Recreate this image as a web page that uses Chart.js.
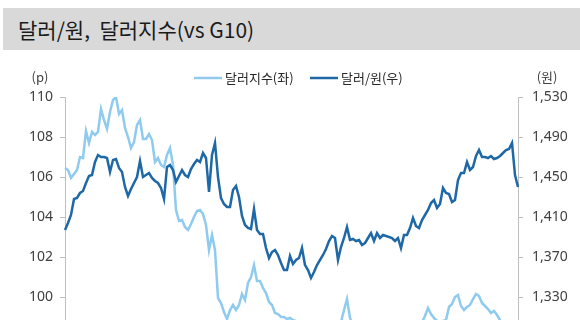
<!DOCTYPE html>
<html>
<head>
<meta charset="utf-8">
<script src="https://cdn.jsdelivr.net/npm/chart.js@4"></script>
<style>
  body { margin: 0; width: 580px; height: 320px; overflow: hidden; background: #fff; }
  #title {
    position: absolute; left: 3px; top: 8px; width: 577px; height: 42px;
    background: #d9d9d9; z-index: 2;
    font-family: "Noto Sans CJK KR", sans-serif; font-size: 21px; color: #1b1b1b;
    line-height: 42px; padding-left: 15px; box-sizing: border-box;
  }
  #wrap { position: absolute; left: 0; top: 0; width: 580px; height: 400px; }
</style>
</head>
<body>
<div id="title">달러/원,&nbsp; 달러지수(vs G10)</div>
<div id="wrap"><canvas id="chart" width="580" height="400"></canvas></div>
<script>
// 달러지수 (left axis, p)
const dollarIndex = [
  106.45, 106.35, 105.95, 106.15, 106.35, 107.0, 106.95, 108.3, 107.7, 108.25,
  108.1, 108.25, 109.4, 108.85, 108.4, 109.25, 109.85, 110.0, 109.15, 109.35,
  108.45, 108.0, 107.45, 107.75, 108.6, 108.85, 107.9, 107.9, 108.15, 107.85,
  106.75, 106.95, 106.6, 106.5, 107.1, 107.45, 106.6, 104.35, 103.8, 103.85,
  103.5, 103.35, 103.65, 104.0, 104.3, 104.35, 104.15, 103.6, 102.35, 103.1,
  102.35, 99.95, 99.7, 99.25, 98.9, 99.35, 99.6, 99.35, 99.6, 100.15,
  99.85, 100.7, 101.0, 101.6, 100.8, 100.8, 100.45, 100.2, 99.75, 99.6,
  99.2, 99.15, 99.0, 99.0, 98.9, 98.95, 98.85, 98.8, 98.65, 98.5,
  98.35, 98.55, 98.2, 98.05, 98.3, 98.4, 98.15, 97.95, 98.1, 98.35,
  98.25, 98.5, 98.75, 99.35, 99.9, 98.95, 98.55, 98.35, 98.2, 98.0,
  97.85, 98.05, 97.9, 97.75, 97.95, 98.15, 98.0, 98.2, 98.4, 98.3,
  98.1, 98.25, 98.45, 98.6, 98.4, 98.3, 98.5, 98.65, 98.55, 98.75,
  99.05, 99.45, 99.15, 98.95, 98.8, 98.75, 98.8, 98.85, 99.5, 99.65,
  100.0, 100.1, 99.55, 99.35, 99.5, 99.6, 99.9, 100.15, 100.05, 99.7,
  99.55, 99.4, 99.2, 99.3, 99.1, 98.85, 98.65, 98.5, 98.6, 98.4,
  98.3, 98.25
];

// 달러/원 (right axis, 원)
const dollarWon = [
  1397, 1404, 1412, 1428, 1429, 1434, 1436, 1444, 1451, 1452,
  1465, 1472, 1470, 1470, 1469, 1455, 1467, 1468, 1459, 1455,
  1440, 1431, 1438, 1444, 1450, 1466, 1450, 1452, 1454, 1449,
  1446, 1444, 1439, 1428, 1460, 1462, 1457, 1445, 1451, 1457,
  1452, 1450, 1458, 1463, 1467, 1465, 1474, 1469, 1435, 1472,
  1484, 1450, 1429, 1423, 1420, 1420, 1437, 1441, 1430, 1411,
  1402, 1399, 1398, 1418, 1397, 1393, 1393, 1379, 1369, 1375,
  1377, 1372, 1364, 1357, 1357, 1371, 1363, 1367, 1369, 1379,
  1362, 1357, 1349, 1355, 1362, 1367, 1372, 1378, 1386, 1391,
  1389, 1367, 1380, 1389, 1400, 1387, 1388, 1386, 1387, 1382,
  1384, 1389, 1394, 1386, 1394, 1389, 1392, 1391, 1390, 1389,
  1386, 1389, 1379, 1392, 1392, 1399, 1409, 1401, 1399, 1407,
  1412, 1417, 1424, 1427, 1419, 1423, 1439, 1434, 1433, 1425,
  1427, 1447, 1454, 1454, 1465, 1457, 1460, 1471, 1477, 1470,
  1470, 1469, 1471, 1468, 1469, 1471, 1474, 1477, 1478, 1484,
  1452, 1440
];

const labels = dollarWon.map((_, i) => i + 1);
const leftTicks = { min: 96, max: 110, step: 2 };
const rightTicks = { min: 1250, max: 1530, step: 40 };

const lightBlue = '#8fcbef';
const darkBlue = '#1f68a6';
const tickColor = '#404040';
const axisColor = '#bfbfbf';

// legend + unit labels, drawn above the plot
const headerLabels = {
  id: 'headerLabels',
  afterDraw(chart) {
    const c = chart.ctx;
    c.save();
    c.font = '13px "Noto Sans CJK KR", sans-serif';
    c.textBaseline = 'middle';
    c.textAlign = 'center';
    c.fillStyle = tickColor;
    c.fillText('(p)', 40, 77);
    c.fillText('(원)', 547, 77);

    const items = [
      { ds: chart.data.datasets[0], x: 194 },
      { ds: chart.data.datasets[1], x: 310 }
    ];
    c.textAlign = 'left';
    c.fillStyle = '#262626';
    items.forEach(it => {
      c.strokeStyle = it.ds.borderColor;
      c.lineWidth = it.ds.borderWidth;
      c.beginPath();
      c.moveTo(it.x, 78);
      c.lineTo(it.x + 28, 78);
      c.stroke();
      c.fillText(it.ds.label, it.x + 31, 78);
    });
    c.restore();
  }
};

const ctx = document.getElementById('chart').getContext('2d');
new Chart(ctx, {
  type: 'line',
  data: {
    labels: labels,
    datasets: [
      {
        label: '달러지수(좌)',
        data: dollarIndex,
        yAxisID: 'y',
        borderColor: lightBlue,
        backgroundColor: lightBlue,
        borderWidth: 2.5,
        pointRadius: 0,
        tension: 0,
        order: 1
      },
      {
        label: '달러/원(우)',
        data: dollarWon,
        yAxisID: 'y1',
        borderColor: darkBlue,
        backgroundColor: darkBlue,
        borderWidth: 2.5,
        pointRadius: 0,
        tension: 0,
        order: 0
      }
    ]
  },
  options: {
    responsive: false,
    animation: false,
    layout: { padding: { top: 97, bottom: 23, left: 0, right: 0 } },
    plugins: {
      legend: { display: false },
      tooltip: { enabled: false }
    },
    scales: {
      x: { display: false },
      y: {
        position: 'left',
        min: leftTicks.min,
        max: leftTicks.max,
        afterFit: (scale) => { scale.width = 65; },
        ticks: {
          stepSize: leftTicks.step,
          padding: 7,
          color: tickColor,
          font: { family: '"Noto Sans", sans-serif', size: 14 }
        },
        grid: { drawOnChartArea: false, tickLength: 5, color: axisColor },
        border: { color: axisColor }
      },
      y1: {
        position: 'right',
        min: rightTicks.min,
        max: rightTicks.max,
        afterFit: (scale) => { scale.width = 62; },
        ticks: {
          stepSize: rightTicks.step,
          padding: 9,
          color: tickColor,
          font: { family: '"Noto Sans", sans-serif', size: 14 }
        },
        grid: { drawOnChartArea: false, tickLength: 5, color: axisColor },
        border: { color: axisColor }
      }
    }
  },
  plugins: [headerLabels]
});
</script>
</body>
</html>
